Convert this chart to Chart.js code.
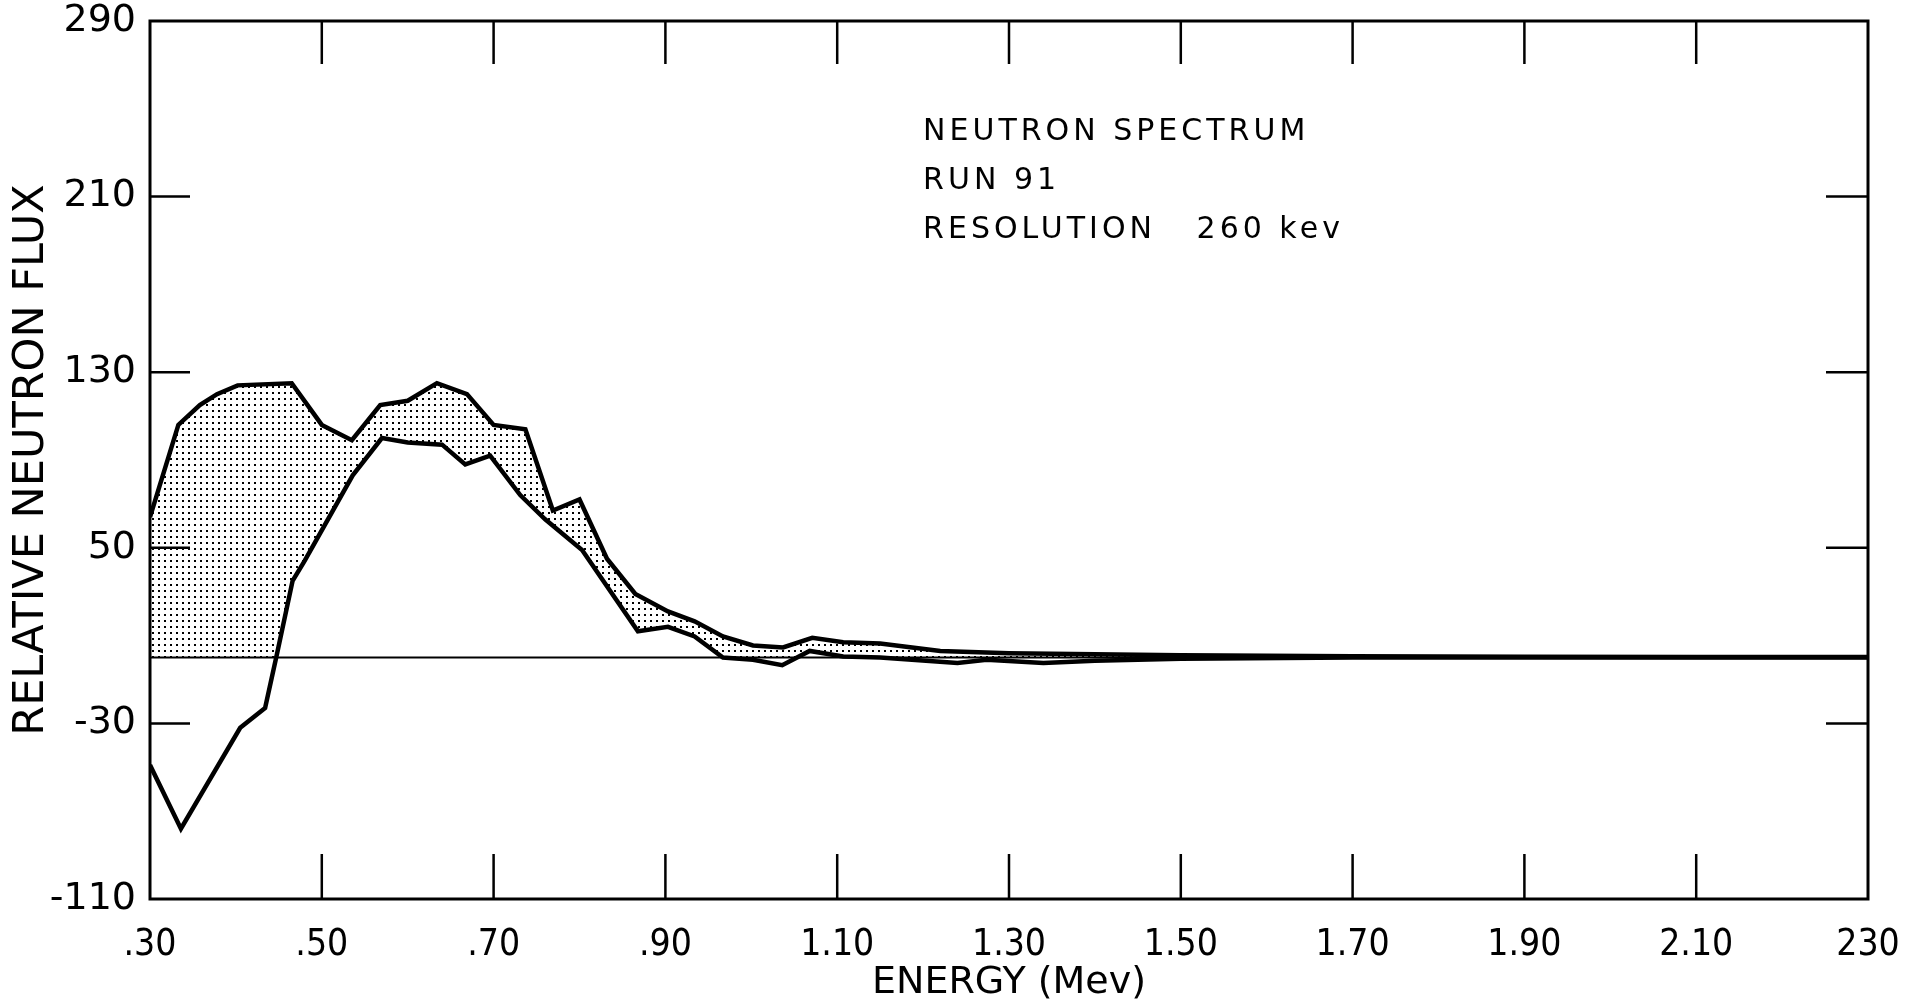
<!DOCTYPE html>
<html>
<head>
<meta charset="utf-8">
<script src="https://cdn.jsdelivr.net/npm/chart.js@4.4.1/dist/chart.umd.min.js"></script>
<style>
  html, body { margin: 0; padding: 0; background: #fff; }
  #wrap { width: 1931px; height: 1002px; position: relative; }
</style>
</head>
<body>
<div id="wrap"><canvas id="myChart"></canvas></div>
<script>
// Data
const upperEnergy = [0.30, 0.333, 0.358, 0.378, 0.402, 0.465, 0.50, 0.535, 0.568, 0.60, 0.634, 0.669, 0.70, 0.737,
    0.769, 0.80, 0.832, 0.865, 0.903, 0.934, 0.967, 1.002, 1.037, 1.071, 1.107, 1.15, 1.22, 1.30, 1.40, 1.50,
    1.70, 1.90, 2.10, 2.30];
const upperFlux = [64, 106, 115, 120, 124, 125, 106, 99, 115, 117, 125, 120, 106, 104,
    67, 72, 45, 29, 21, 16.5, 9.6, 5.5, 4.6, 9, 7, 6.4, 3, 2, 1.5, 1,
    0.6, 0.4, 0.3, 0.2];

const lowerEnergy = [0.30, 0.336, 0.405, 0.434, 0.448, 0.466, 0.48, 0.536, 0.57, 0.60, 0.64, 0.667, 0.696, 0.731,
    0.76, 0.803, 0.868, 0.903, 0.934, 0.967, 1.002, 1.036, 1.068, 1.107, 1.15, 1.24, 1.274, 1.34, 1.40, 1.50,
    1.70, 1.90, 2.10, 2.30];
const lowerFlux = [-49, -78, -32, -23, 2, 35, 44, 83, 100, 98, 97, 88, 92, 74,
    63, 49, 12, 14, 9.6, 0, -1, -3.5, 3, 0.5, 0, -2.5, -1, -2.5, -1.5, -0.5,
    0, 0, 0, 0];

const xTickLabels = ['.30', '.50', '.70', '.90', '1.10', '1.30', '1.50', '1.70', '1.90', '2.10', '230'];
const noteLines = ['NEUTRON SPECTRUM', 'RUN 91', 'RESOLUTION   260 kev'];

// Helpers
function toPoints(xs, ys) {
    return xs.map((x, i) => ({ x: x, y: ys[i] }));
}

function dotPattern() {
    const c = document.createElement('canvas');
    c.width = 6;
    c.height = 6;
    const g = c.getContext('2d');
    g.fillStyle = '#fff';
    g.fillRect(0, 0, 6, 6);
    g.fillStyle = '#000';
    g.fillRect(2, 2, 2, 2);
    return g.createPattern(c, 'repeat');
}

// Box, inner tick marks, zero line and the note text
const framePlugin = {
    id: 'frame',
    beforeDatasetsDraw(chart) {
        const ctx = chart.ctx;
        const a = chart.chartArea;
        const y0 = chart.scales.y.getPixelForValue(0);
        ctx.save();
        ctx.strokeStyle = '#000';
        ctx.lineWidth = 2;
        ctx.beginPath();
        ctx.moveTo(a.left, y0);
        ctx.lineTo(a.right, y0);
        ctx.stroke();
        ctx.restore();
    },
    afterDraw(chart) {
        const ctx = chart.ctx;
        const a = chart.chartArea;
        const xs = chart.scales.x;
        const ys = chart.scales.y;
        ctx.save();
        ctx.strokeStyle = '#000';
        ctx.lineWidth = 2.5;
        xs.ticks.forEach((t, i) => {
            if (i === 0 || i === xs.ticks.length - 1) return;
            const px = xs.getPixelForValue(t.value);
            ctx.beginPath();
            ctx.moveTo(px, a.top);
            ctx.lineTo(px, a.top + 43);
            ctx.moveTo(px, a.bottom);
            ctx.lineTo(px, a.bottom - 45);
            ctx.stroke();
        });
        ys.ticks.forEach((t, i) => {
            if (i === 0 || i === ys.ticks.length - 1) return;
            const py = ys.getPixelForValue(t.value);
            ctx.beginPath();
            ctx.moveTo(a.left, py);
            ctx.lineTo(a.left + 40, py);
            ctx.moveTo(a.right, py);
            ctx.lineTo(a.right - 42, py);
            ctx.stroke();
        });
        ctx.lineWidth = 3;
        ctx.strokeRect(a.left, a.top, a.right - a.left, a.bottom - a.top);

        ctx.fillStyle = '#000';
        ctx.font = '30px "DejaVu Sans"';
        if ('letterSpacing' in ctx) ctx.letterSpacing = '4px';
        ctx.textBaseline = 'alphabetic';
        ctx.textAlign = 'left';
        const tx = xs.getPixelForValue(1.2);
        noteLines.forEach((line, i) => {
            ctx.fillText(line, tx, ys.getPixelForValue(236 - i * 22.5));
        });
        ctx.restore();
    }
};

const stipple = dotPattern();

const data = {
    datasets: [{
            label: 'lower',
            data: toPoints(lowerEnergy, lowerFlux),
            borderColor: '#000',
            borderWidth: 4.5,
            pointRadius: 0,
            fill: { target: 'origin', above: '#fff', below: 'rgba(0,0,0,0)' },
        },
        {
            label: 'upper',
            data: toPoints(upperEnergy, upperFlux),
            borderColor: '#000',
            borderWidth: 4.5,
            pointRadius: 0,
            fill: { target: 'origin', above: stipple, below: 'rgba(0,0,0,0)' },
        }
    ]
};

const config = {
    type: 'line',
    data: data,
    options: {
        responsive: true,
        maintainAspectRatio: false,
        animation: false,
        layout: { padding: { top: 0, right: 63, left: 0, bottom: 0 } },
        plugins: {
            legend: { display: false },
            tooltip: { enabled: false },
            filler: { drawTime: 'beforeDatasetsDraw' }
        },
        elements: { line: { tension: 0, borderJoinStyle: 'miter' } },
        scales: {
            x: {
                type: 'linear',
                min: 0.3,
                max: 2.3,
                grid: { display: false, drawTicks: false },
                border: { display: false },
                ticks: {
                    stepSize: 0.2,
                    autoSkip: false,
                    maxRotation: 0,
                    padding: 24,
                    color: '#000',
                    font: { family: '"DejaVu Sans Condensed", "DejaVu Sans"', size: 37 },
                    callback: (v, i) => xTickLabels[i]
                },
                title: {
                    display: true,
                    text: 'ENERGY (Mev)',
                    color: '#000',
                    font: { family: '"DejaVu Sans"', size: 38, lineHeight: 1 },
                    padding: { top: 0, bottom: 0 }
                },
                afterFit: (s) => { s.height = 103; }
            },
            y: {
                min: -110,
                max: 290,
                grid: { display: false, drawTicks: false },
                border: { display: false },
                ticks: {
                    stepSize: 80,
                    padding: 14,
                    color: '#000',
                    font: { family: '"DejaVu Sans"', size: 38 }
                },
                title: {
                    display: true,
                    text: 'RELATIVE NEUTRON FLUX',
                    color: '#000',
                    font: { family: '"DejaVu Sans"', size: 43 },
                    padding: { top: 6, bottom: 0 }
                },
                afterFit: (s) => {
                    s.width = 150;
                    s.paddingTop = 21;
                }
            }
        }
    },
    plugins: [framePlugin]
};

const myChart = new Chart(
    document.getElementById('myChart'),
    config
);
</script>
</body>
</html>
